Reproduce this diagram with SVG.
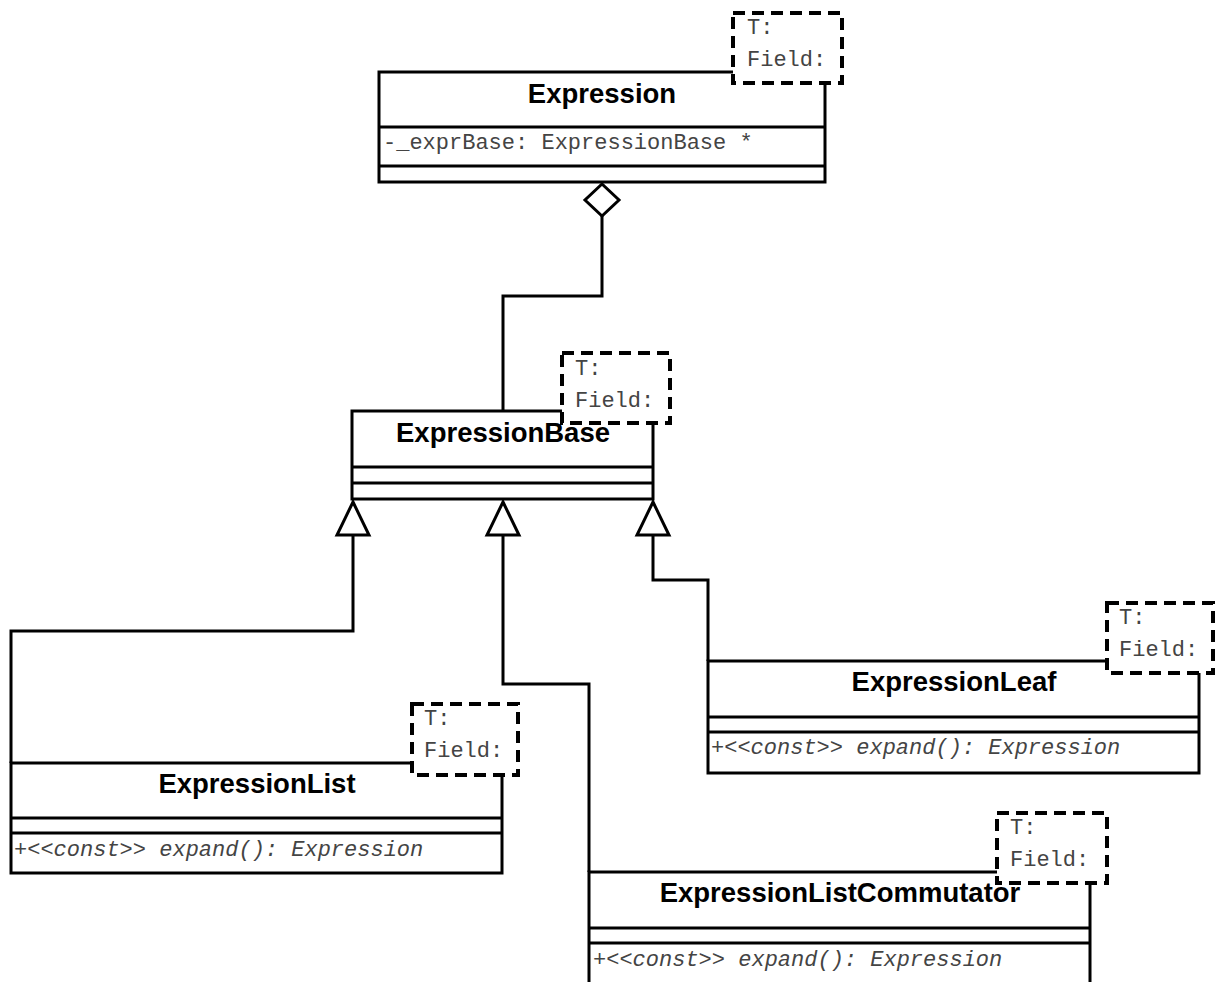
<svg xmlns="http://www.w3.org/2000/svg" width="1215" height="982" viewBox="0 0 1215 982">
<style>
.box{fill:#fff;stroke:#000;stroke-width:3}
.sep{stroke:#000;stroke-width:3}
.tpl{fill:#fff;stroke:#000;stroke-width:4;stroke-dasharray:12,7}
.name{font-family:"Liberation Sans",Arial,sans-serif;font-weight:bold;font-size:27.5px;fill:#000;text-anchor:middle}
.mono{font-family:"Liberation Mono","Courier New",monospace;font-size:22px;fill:#444}
.it{font-style:italic}
.con{fill:none;stroke:#000;stroke-width:3}
.head{fill:#fff;stroke:#000;stroke-width:3}
</style>
<rect width="1215" height="982" fill="#fff"/>
<g id="connectors">
<polyline class="con" points="602,215 602,296 503,296 503,411"/>
<polygon class="head" points="602,184 619,200 602,216 585,200"/>
<polyline class="con" points="353,535 353,631 11,631 11,763"/>
<polygon class="head" points="353,502 369,535 337,535"/>
<polyline class="con" points="503,535 503,684 589,684 589,872"/>
<polygon class="head" points="503,502 519,535 487,535"/>
<polyline class="con" points="653,535 653,580 708,580 708,661"/>
<polygon class="head" points="653,502 669,535 637,535"/>
</g>
<g id="Expression">
<rect class="box" x="379" y="72" width="446" height="110"/>
<line class="sep" x1="379" y1="127" x2="825" y2="127"/>
<line class="sep" x1="379" y1="166" x2="825" y2="166"/>
<text class="name" x="602" y="103">Expression</text>
<text class="mono" x="383" y="149">-_exprBase: ExpressionBase *</text>
<rect class="tpl" x="733" y="13" width="109" height="70"/>
<text class="mono" x="747" y="34">T:</text>
<text class="mono" x="747" y="66">Field:</text>
</g>
<g id="ExpressionBase">
<rect class="box" x="352" y="411" width="301" height="88"/>
<line class="sep" x1="352" y1="467" x2="653" y2="467"/>
<line class="sep" x1="352" y1="483" x2="653" y2="483"/>
<text class="name" x="503" y="442">ExpressionBase</text>
<rect class="tpl" x="562" y="353" width="108" height="70"/>
<text class="mono" x="575" y="375">T:</text>
<text class="mono" x="575" y="407">Field:</text>
</g>
<g id="ExpressionList">
<rect class="box" x="11" y="763" width="491" height="110"/>
<line class="sep" x1="11" y1="818" x2="502" y2="818"/>
<line class="sep" x1="11" y1="833" x2="502" y2="833"/>
<text class="name" x="257" y="793">ExpressionList</text>
<text class="mono it" x="14" y="856">+&lt;&lt;const&gt;&gt; expand(): Expression</text>
<rect class="tpl" x="412" y="704" width="106" height="71"/>
<text class="mono" x="424" y="725">T:</text>
<text class="mono" x="424" y="757">Field:</text>
</g>
<g id="ExpressionLeaf">
<rect class="box" x="708" y="661" width="491" height="112"/>
<line class="sep" x1="708" y1="717" x2="1199" y2="717"/>
<line class="sep" x1="708" y1="732" x2="1199" y2="732"/>
<text class="name" x="954" y="691">ExpressionLeaf</text>
<text class="mono it" x="711" y="754">+&lt;&lt;const&gt;&gt; expand(): Expression</text>
<rect class="tpl" x="1107" y="603" width="106" height="70"/>
<text class="mono" x="1119" y="624">T:</text>
<text class="mono" x="1119" y="656">Field:</text>
</g>
<g id="ExpressionListCommutator">
<rect class="box" x="589" y="872" width="501" height="115"/>
<line class="sep" x1="589" y1="928" x2="1090" y2="928"/>
<line class="sep" x1="589" y1="943" x2="1090" y2="943"/>
<text class="name" x="840" y="902">ExpressionListCommutator</text>
<text class="mono it" x="593" y="966">+&lt;&lt;const&gt;&gt; expand(): Expression</text>
<rect class="tpl" x="997" y="813" width="110" height="70"/>
<text class="mono" x="1010" y="834">T:</text>
<text class="mono" x="1010" y="866">Field:</text>
</g>
</svg>
